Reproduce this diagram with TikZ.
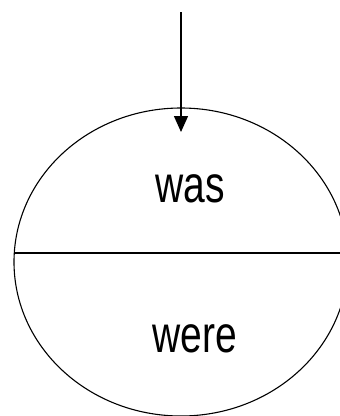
\documentclass[tikz,border=0pt]{standalone}
\usepackage{fontspec}
\setmainfont{Liberation Sans}
\usetikzlibrary{shapes.geometric,arrows.meta}
\begin{document}
\begin{tikzpicture}[x=1pt,y=-1pt,
  outline/.style={draw=black,line width=1.1pt},
  label/.style={inner sep=0pt,anchor=base,font=\fontsize{39}{39}\selectfont},
  arrowline/.style={draw=black,line width=1.4pt,-{Triangle[length=16pt,width=14pt]}}]
\useasboundingbox (0,0) rectangle (340,416);
\clip (0,0) rectangle (340,416);
\node[ellipse,outline,inner sep=0pt,outer sep=0pt,minimum width=334pt,minimum height=308pt] (e) at (181,262) {};
\coordinate (lineL) at (14.3,253);
\coordinate (lineR) at (347.7,253);
\draw[outline] (lineL) -- (lineR);
\coordinate (start) at (181,12);
\coordinate (tip) at (181,132);
\draw[arrowline] (start) -- (tip);
\node[label] (was) at (190,202) {\scalebox{1}[1.33]{was}};
\node[label] (were) at (194.5,352) {\scalebox{1}[1.33]{were}};
\end{tikzpicture}
\end{document}
